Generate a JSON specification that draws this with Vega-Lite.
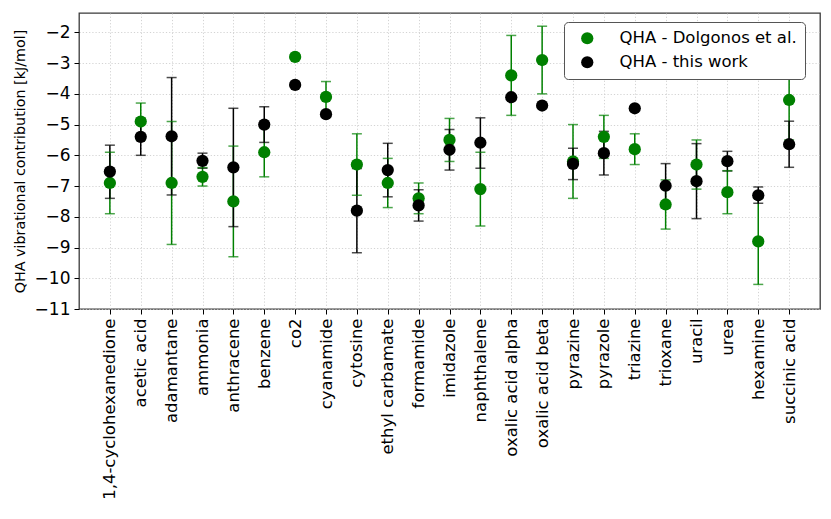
{
  "$schema": "https://vega.github.io/schema/vega-lite/v6.json",
  "autosize": {"type": "none"},
  "width": 741,
  "height": 296,
  "padding": {"left": 79, "top": 13, "right": 11, "bottom": 210},
  "background": "white",
  "config": {
    "font": "DejaVu Sans",
    "view": {"stroke": "#3a3a3a", "strokeWidth": 1.3},
    "axis": {
      "domain": false,
      "grid": true,
      "gridColor": "#c8c8c8",
      "gridDash": [1.2, 2],
      "gridWidth": 0.8,
      "tickColor": "#000",
      "tickSize": 5,
      "labelColor": "#000",
      "titleColor": "#000",
      "labelOverlap": false
    },
    "axisY": {
      "title": "QHA vibrational contribution [kJ/mol]",
      "titleFontSize": 14.3,
      "titleFontWeight": "normal",
      "titlePadding": 7,
      "values": [-11, -10, -9, -8, -7, -6, -5, -4, -3, -2],
      "labelFontSize": 17,
      "labelPadding": 4,
      "labelOverlap": false
    }
  },
  "data": {
    "values": [
      {"name": "1,4-cyclohexanedione", "series": "QHA - Dolgonos et al.", "value": -6.9, "lo": -7.9, "hi": -5.9},
      {"name": "acetic acid", "series": "QHA - Dolgonos et al.", "value": -4.9, "lo": -5.5, "hi": -4.3},
      {"name": "adamantane", "series": "QHA - Dolgonos et al.", "value": -6.9, "lo": -8.9, "hi": -4.9},
      {"name": "ammonia", "series": "QHA - Dolgonos et al.", "value": -6.7, "lo": -7.0, "hi": -6.4},
      {"name": "anthracene", "series": "QHA - Dolgonos et al.", "value": -7.5, "lo": -9.3, "hi": -5.7},
      {"name": "benzene", "series": "QHA - Dolgonos et al.", "value": -5.9, "lo": -6.7, "hi": -5.1},
      {"name": "co2", "series": "QHA - Dolgonos et al.", "value": -2.8, "lo": -2.8, "hi": -2.8},
      {"name": "cyanamide", "series": "QHA - Dolgonos et al.", "value": -4.1, "lo": -4.6, "hi": -3.6},
      {"name": "cytosine", "series": "QHA - Dolgonos et al.", "value": -6.3, "lo": -7.3, "hi": -5.3},
      {"name": "ethyl carbamate", "series": "QHA - Dolgonos et al.", "value": -6.9, "lo": -7.7, "hi": -6.1},
      {"name": "formamide", "series": "QHA - Dolgonos et al.", "value": -7.4, "lo": -7.9, "hi": -6.9},
      {"name": "imidazole", "series": "QHA - Dolgonos et al.", "value": -5.5, "lo": -6.2, "hi": -4.8},
      {"name": "naphthalene", "series": "QHA - Dolgonos et al.", "value": -7.1, "lo": -8.3, "hi": -5.9},
      {"name": "oxalic acid alpha", "series": "QHA - Dolgonos et al.", "value": -3.4, "lo": -4.7, "hi": -2.1},
      {"name": "oxalic acid beta", "series": "QHA - Dolgonos et al.", "value": -2.9, "lo": -4.0, "hi": -1.8},
      {"name": "pyrazine", "series": "QHA - Dolgonos et al.", "value": -6.2, "lo": -7.4, "hi": -5.0},
      {"name": "pyrazole", "series": "QHA - Dolgonos et al.", "value": -5.4, "lo": -6.1, "hi": -4.7},
      {"name": "triazine", "series": "QHA - Dolgonos et al.", "value": -5.8, "lo": -6.3, "hi": -5.3},
      {"name": "trioxane", "series": "QHA - Dolgonos et al.", "value": -7.6, "lo": -8.4, "hi": -6.8},
      {"name": "uracil", "series": "QHA - Dolgonos et al.", "value": -6.3, "lo": -7.1, "hi": -5.5},
      {"name": "urea", "series": "QHA - Dolgonos et al.", "value": -7.2, "lo": -7.9, "hi": -6.5},
      {"name": "hexamine", "series": "QHA - Dolgonos et al.", "value": -8.8, "lo": -10.2, "hi": -7.4},
      {"name": "succinic acid", "series": "QHA - Dolgonos et al.", "value": -4.2, "lo": -5.5, "hi": -2.9},
      {"name": "1,4-cyclohexanedione", "series": "QHA - this work", "value": -6.53, "lo": -7.40, "hi": -5.67},
      {"name": "acetic acid", "series": "QHA - this work", "value": -5.40, "lo": -6.0, "hi": -4.8},
      {"name": "adamantane", "series": "QHA - this work", "value": -5.38, "lo": -7.29, "hi": -3.47},
      {"name": "ammonia", "series": "QHA - this work", "value": -6.18, "lo": -6.42, "hi": -5.93},
      {"name": "anthracene", "series": "QHA - this work", "value": -6.39, "lo": -8.32, "hi": -4.47},
      {"name": "benzene", "series": "QHA - this work", "value": -5.00, "lo": -5.58, "hi": -4.42},
      {"name": "co2", "series": "QHA - this work", "value": -3.71, "lo": -3.71, "hi": -3.71},
      {"name": "cyanamide", "series": "QHA - this work", "value": -4.66, "lo": -4.66, "hi": -4.66},
      {"name": "cytosine", "series": "QHA - this work", "value": -7.80, "lo": -9.17, "hi": -6.43},
      {"name": "ethyl carbamate", "series": "QHA - this work", "value": -6.48, "lo": -7.35, "hi": -5.61},
      {"name": "formamide", "series": "QHA - this work", "value": -7.63, "lo": -8.14, "hi": -7.12},
      {"name": "imidazole", "series": "QHA - this work", "value": -5.82, "lo": -6.48, "hi": -5.16},
      {"name": "naphthalene", "series": "QHA - this work", "value": -5.59, "lo": -6.42, "hi": -4.78},
      {"name": "oxalic acid alpha", "series": "QHA - this work", "value": -4.11, "lo": -4.11, "hi": -4.11},
      {"name": "oxalic acid beta", "series": "QHA - this work", "value": -4.38, "lo": -4.38, "hi": -4.38},
      {"name": "pyrazine", "series": "QHA - this work", "value": -6.28, "lo": -6.79, "hi": -5.77},
      {"name": "pyrazole", "series": "QHA - this work", "value": -5.93, "lo": -6.64, "hi": -5.22},
      {"name": "triazine", "series": "QHA - this work", "value": -4.47, "lo": -4.47, "hi": -4.47},
      {"name": "trioxane", "series": "QHA - this work", "value": -6.99, "lo": -7.71, "hi": -6.27},
      {"name": "uracil", "series": "QHA - this work", "value": -6.84, "lo": -8.06, "hi": -5.62},
      {"name": "urea", "series": "QHA - this work", "value": -6.19, "lo": -6.51, "hi": -5.87},
      {"name": "hexamine", "series": "QHA - this work", "value": -7.30, "lo": -7.56, "hi": -7.03},
      {"name": "succinic acid", "series": "QHA - this work", "value": -5.64, "lo": -6.39, "hi": -4.89}
    ]
  },
  "encoding": {
    "x": {
      "field": "name",
      "type": "nominal",
      "sort": null,
      "scale": {"type": "point", "padding": 1.1},
      "axis": {"title": null, "labelAngle": -90, "labelFontSize": 16.5, "labelPadding": 4, "labelLimit": 300}
    },
    "color": {
      "field": "series",
      "type": "nominal",
      "scale": {"domain": ["QHA - Dolgonos et al.", "QHA - this work"], "range": ["#008000", "#000000"]},
      "legend": {
        "title": null,
        "orient": "none",
        "legendX": 485,
        "legendY": 9,
        "fillColor": "white",
        "strokeColor": "#555",
        "cornerRadius": 4,
        "padding": 8,
        "symbolOffset": 7,
        "labelFontSize": 16.5,
        "labelOffset": 24,
        "symbolType": "circle",
        "symbolSize": 150,
        "symbolStrokeWidth": 0,
        "symbolOpacity": 1,
        "rowPadding": 7,
        "labelLimit": 300
      }
    }
  },
  "layer": [
    {
      "mark": {"type": "rule", "strokeWidth": 1.5},
      "encoding": {
        "y": {
          "field": "lo",
          "type": "quantitative",
          "title": "QHA vibrational contribution [kJ/mol]",
          "scale": {"domain": [-11, -1.37], "nice": false, "zero": false}
        },
        "y2": {"field": "hi"}
      }
    },
    {
      "mark": {"type": "tick", "orient": "horizontal", "size": 10, "thickness": 1.5},
      "encoding": {"y": {"field": "lo", "type": "quantitative", "title": "QHA vibrational contribution [kJ/mol]"}}
    },
    {
      "mark": {"type": "tick", "orient": "horizontal", "size": 10, "thickness": 1.5},
      "encoding": {"y": {"field": "hi", "type": "quantitative", "title": "QHA vibrational contribution [kJ/mol]"}}
    },
    {
      "mark": {"type": "circle", "size": 150, "opacity": 1},
      "encoding": {"y": {"field": "value", "type": "quantitative", "title": "QHA vibrational contribution [kJ/mol]"}}
    }
  ]
}
